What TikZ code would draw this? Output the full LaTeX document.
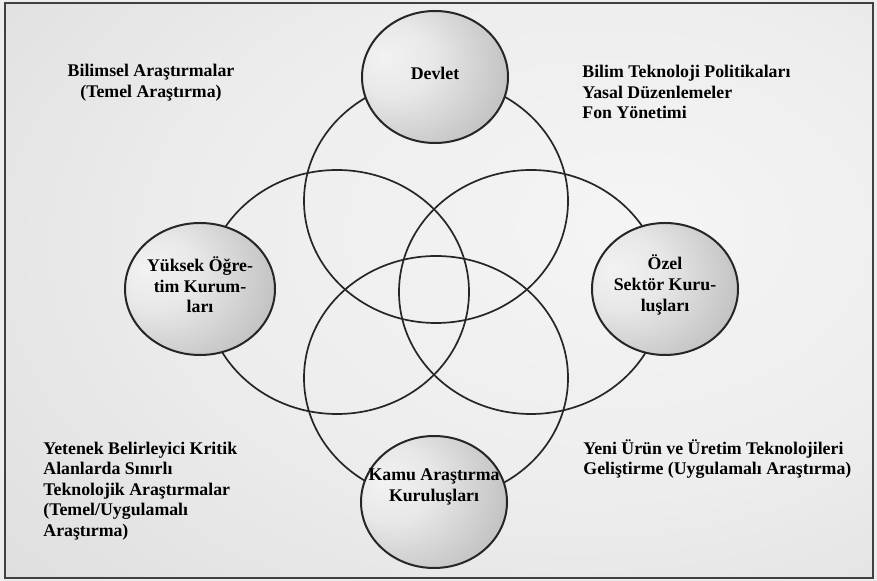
\documentclass[tikz,border=0pt]{standalone}
\usepackage{fontspec}
\setmainfont{Liberation Serif}
\usepackage{tikz}
\usetikzlibrary{shapes.geometric}

\pgfdeclareradialshading{orb}{\pgfpoint{-18bp}{8bp}}{color(0bp)=(gray!10); color(14bp)=(gray!18); color(34bp)=(gray!45); color(58bp)=(gray!74); color(80bp)=(gray!78)}
\pgfdeclareradialshading{sheet}{\pgfpoint{12bp}{6bp}}{color(0bp)=(gray!8); color(22bp)=(gray!14); color(50bp)=(gray!30); color(80bp)=(gray!36)}

\begin{document}
\begin{tikzpicture}[x=0.5pt, y=-0.5pt,
  orb/.style={ellipse, draw=black!85, line width=1pt, shading=orb, minimum width=73pt, minimum height=66pt, inner sep=0pt},
  ring/.style={draw=black!85, line width=0.85pt},
  tag/.style={align=center, inner sep=0pt, font=\bfseries\fontsize{8.9}{10.3}\selectfont},
  note/.style={anchor=west, inner sep=0pt, font=\bfseries\fontsize{8.9}{10.3}\selectfont}
]
% sheet and frame
\fill[gray!14] (0,0) rectangle (877,581);
\shade[shading=sheet] (5,3) rectangle (873,578);
\draw[black!75, line width=1pt] (5,3) rectangle (873,578);

% the four rings
\coordinate (Top) at (436,201);
\coordinate (Left) at (337,292);
\coordinate (Right) at (531,292);
\coordinate (Bottom) at (436,378);
\draw[ring] (Top) ellipse [x radius=66pt, y radius=61pt];
\draw[ring] (Left) ellipse [x radius=66pt, y radius=61pt];
\draw[ring] (Right) ellipse [x radius=66pt, y radius=61pt];
\draw[ring] (Bottom) ellipse [x radius=66pt, y radius=61pt];

% actors
\node[orb, label={[tag, yshift=2pt]center:Devlet}] (Devlet) at (435,77) {};
\node[orb, minimum width=75pt, label={[tag, yshift=2pt]center:{Yüksek Öğre-\\tim Kurum-\\ları}}] (Yuksek) at (200,289) {};
\node[orb, label={[tag, yshift=2pt]center:{Özel\\Sektör Kuru-\\luşları}}] (Ozel) at (665,289) {};
\node[orb, label={[tag, yshift=7.5pt]center:{Kamu Araştırma\\Kuruluşları}}] (Kamu) at (434,502) {};

% research types
\node[tag] (Bilimsel) at (151,83) {Bilimsel Araştırmalar\\(Temel Araştırma)};
\node[note, align=left] (Politika) at (582,92) {Bilim Teknoloji Politikaları\\Yasal Düzenlemeler\\Fon Yönetimi};
\node[note, align=left] (Kritik) at (43,491) {Yetenek Belirleyici Kritik\\Alanlarda Sınırlı\\Teknolojik Araştırmalar\\(Temel/Uygulamalı\\Araştırma)};
\node[note, align=left] (Uygulama) at (583,459) {Yeni Ürün ve Üretim Teknolojileri\\Geliştirme (Uygulamalı Araştırma)};
\end{tikzpicture}
\end{document}
